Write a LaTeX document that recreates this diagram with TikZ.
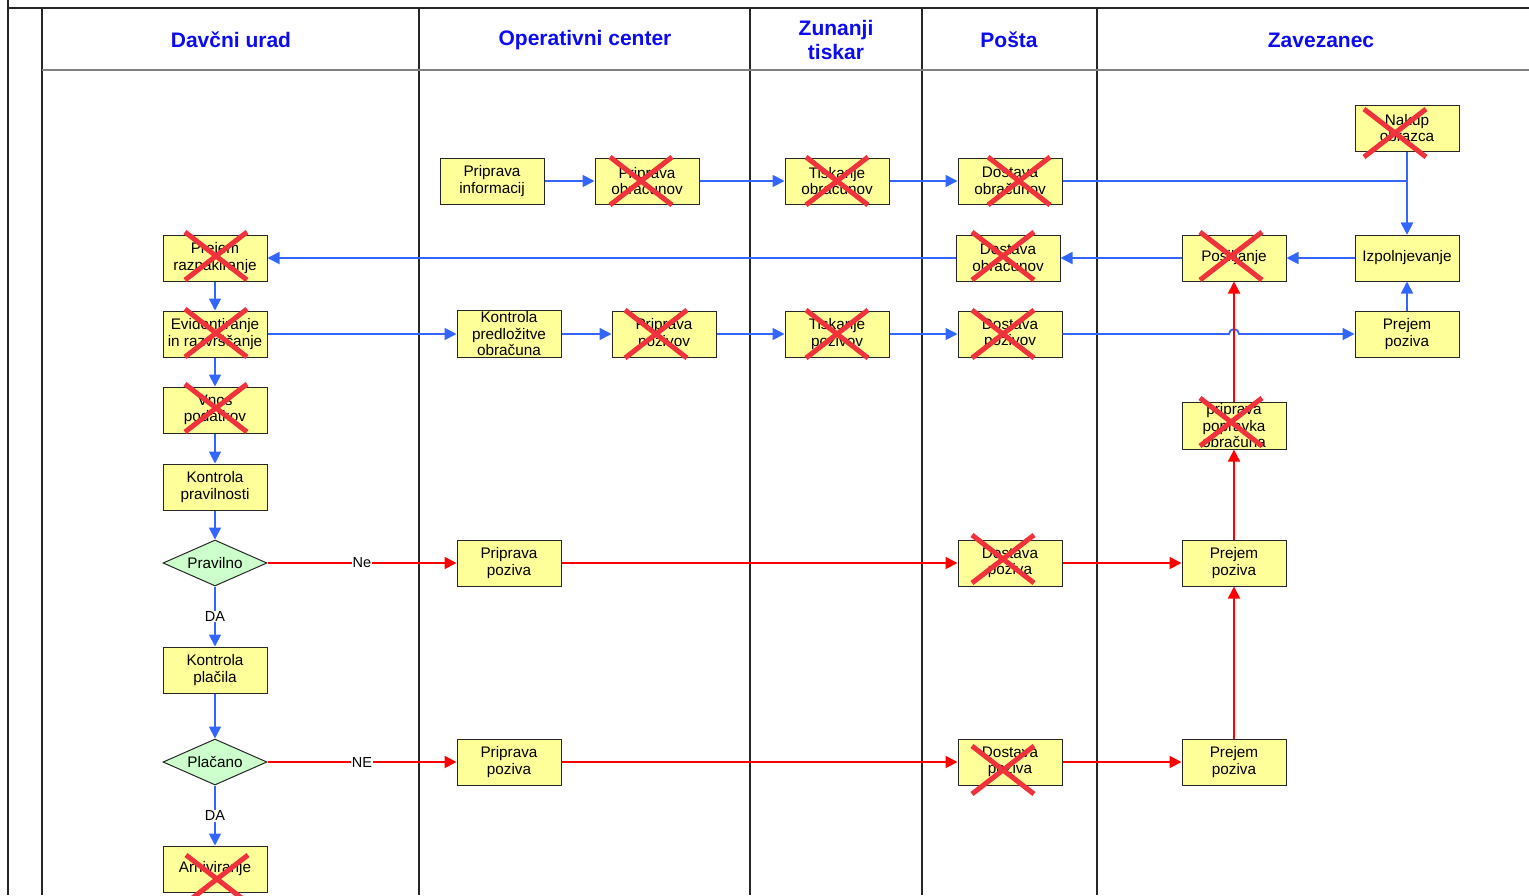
\documentclass[tikz,border=0pt]{standalone}
\usepackage{fontspec}
\setmainfont{Liberation Sans}
\usetikzlibrary{arrows.meta,shapes.geometric}
\definecolor{lanetitle}{RGB}{10,10,245}
\definecolor{boxfill}{RGB}{255,255,153}
\definecolor{decfill}{RGB}{204,255,204}
\definecolor{flowblue}{RGB}{51,102,255}
\definecolor{flowred}{RGB}{255,0,0}
\definecolor{xred}{RGB}{240,50,60}
\begin{document}
\begin{tikzpicture}[x=1pt,y=-1pt,
    task/.style={draw=black!85,line width=1pt,fill=boxfill,minimum width=104pt,
      minimum height=46pt,inner sep=1pt,align=center,
      font=\fontsize{15.3}{16.5}\selectfont},
    decision/.style={diamond,draw=black!85,line width=1pt,fill=decfill,aspect=2.26,
      minimum width=104pt,minimum height=46pt,inner sep=0pt,
      font=\fontsize{15.3}{16.5}\selectfont},
    lane/.style={text=lanetitle,align=center,font=\fontsize{21}{24}\selectfont\bfseries},
    lanerule/.style={black!85,line width=1.5pt},
    flow/.style={flowblue,line width=1.8pt,-{Triangle[length=12pt,width=12pt]}},
    alarm/.style={flowred,line width=1.8pt,-{Triangle[length=12pt,width=12pt]}},
    lbl/.style={fill=white,inner sep=1pt,text=black,font=\fontsize{14.5}{16}\selectfont},
    xmark/.style={xred,line width=5pt}]
  \useasboundingbox (0,0) rectangle (1529,895);
  % lanes
  \draw[lanerule] (8,0) -- (8,895);
  \draw[lanerule] (8,8) -- (1529,8);
  \draw[lanerule] (42,8) -- (42,895);
  \foreach \x in {419,750,922,1097}
    \draw[lanerule] (\x,8) -- (\x,895);
  \draw[black!50,line width=2pt] (42,70) -- (1529,70);
  \node[lane] at (231,40) {Davčni urad};
  \node[lane] at (585,40) {Operativni center};
  \node[lane] at (836,40) {Zunanji\\tiskar};
  \node[lane] at (1009,40) {Pošta};
  \node[lane] at (1321,40) {Zavezanec};
  % tasks
  \node[task] (info) at (492,181) {Priprava\\informacij};
  \node[task] (pripObr) at (647,181) {Priprava\\obračunov};
  \node[task] (tiskObr) at (837,181) {Tiskanje\\obračunov};
  \node[task] (dostObrA) at (1010,181) {Dostava\\obračunov};
  \node[task] (nakup) at (1407,128) {Nakup\\obrazca};
  \node[task] (prejem) at (215,258) {Prejem\\razpakiranje};
  \node[task] (dostObrB) at (1008,258) {Dostava\\obračunov};
  \node[task] (posil) at (1234,258) {Pošiljanje};
  \node[task] (izpol) at (1407,258) {Izpolnjevanje};
  \node[task] (evid) at (215,334) {Evidentiranje\\in razvrščanje};
  \node[task] (kontPred) at (509,334) {Kontrola\\predložitve\\obračuna};
  \node[task] (pripPoz) at (664,334) {Priprava\\pozivov};
  \node[task] (tiskPoz) at (837,334) {Tiskanje\\pozivov};
  \node[task] (dostPoz) at (1010,334) {Dostava\\pozivov};
  \node[task] (prejZav) at (1407,334) {Prejem\\poziva};
  \node[task] (vnos) at (215,410) {Vnos\\podatkov};
  \node[task] (popravek) at (1234,426) {priprava\\popravka\\obračuna};
  \node[task] (kontPrav) at (215,487) {Kontrola\\pravilnosti};
  \node[decision] (pravilno) at (215,563) {Pravilno};
  \node[task] (pozivA) at (509,563) {Priprava\\poziva};
  \node[task] (dostA) at (1010,563) {Dostava\\poziva};
  \node[task] (prejA) at (1234,563) {Prejem\\poziva};
  \node[task] (kontPlac) at (215,670) {Kontrola\\plačila};
  \node[decision] (placano) at (215,762) {Plačano};
  \node[task] (pozivB) at (509,762) {Priprava\\poziva};
  \node[task] (dostB) at (1010,762) {Dostava\\poziva};
  \node[task] (prejB) at (1234,762) {Prejem\\poziva};
  \node[task] (arhiv) at (215,869) {Arhiviranje};
  % blue flow
  \draw[flow] (info) -- (pripObr);
  \draw[flow] (pripObr) -- (tiskObr);
  \draw[flow] (tiskObr) -- (dostObrA);
  \draw[flow] (dostObrA) -| (izpol);
  \draw[flow] (nakup) -- (izpol);
  \draw[flow] (izpol) -- (posil);
  \draw[flow] (posil) -- (dostObrB);
  \draw[flow] (dostObrB) -- (prejem);
  \draw[flow] (prejem) -- (evid);
  \draw[flow] (evid) -- (kontPred);
  \draw[flow] (kontPred) -- (pripPoz);
  \draw[flow] (pripPoz) -- (tiskPoz);
  \draw[flow] (tiskPoz) -- (dostPoz);
  \coordinate (hop) at (1229,334);
  \draw[flow] (dostPoz) -- (hop) arc[start angle=180,end angle=0,radius=5pt] -- (prejZav);
  \draw[flow] (prejZav) -- (izpol);
  \draw[flow] (evid) -- (vnos);
  \draw[flow] (vnos) -- (kontPrav);
  \draw[flow] (kontPrav) -- (pravilno);
  \draw[flow] (pravilno) -- node[lbl] {DA} (kontPlac);
  \draw[flow] (kontPlac) -- (placano);
  \draw[flow] (placano) -- node[lbl] {DA} (arhiv);
  % red flow
  \draw[alarm] (pravilno) -- node[lbl] {Ne} (pozivA);
  \draw[alarm] (pozivA) -- (dostA);
  \draw[alarm] (dostA) -- (prejA);
  \draw[alarm] (prejA) -- (popravek);
  \draw[alarm] (popravek) -- (posil);
  \draw[alarm] (placano) -- node[lbl] {NE} (pozivB);
  \draw[alarm] (pozivB) -- (dostB);
  \draw[alarm] (dostB) -- (prejB);
  \draw[alarm] (prejB) -- (prejA);
  % crossed out steps
  \foreach \n/\dx/\dy in {prejem/1/-2,evid/1/-1,vnos/1/-2,pripObr/-6/0,tiskObr/0/0,
      dostObrA/9/0,dostObrB/-5/-2,posil/-3/-2,nakup/-12/5,pripPoz/-8/0,tiskPoz/0/0,
      dostPoz/-7/0,popravek/-3/-4,dostA/-7/-4,dostB/-7/8,arhiv/2/10}
    \draw[xmark] (\n) ++(\dx,\dy) ++(-31,-24) -- ++(62,48)
      (\n) ++(\dx,\dy) ++(-31,24) -- ++(62,-48);
\end{tikzpicture}
\end{document}
